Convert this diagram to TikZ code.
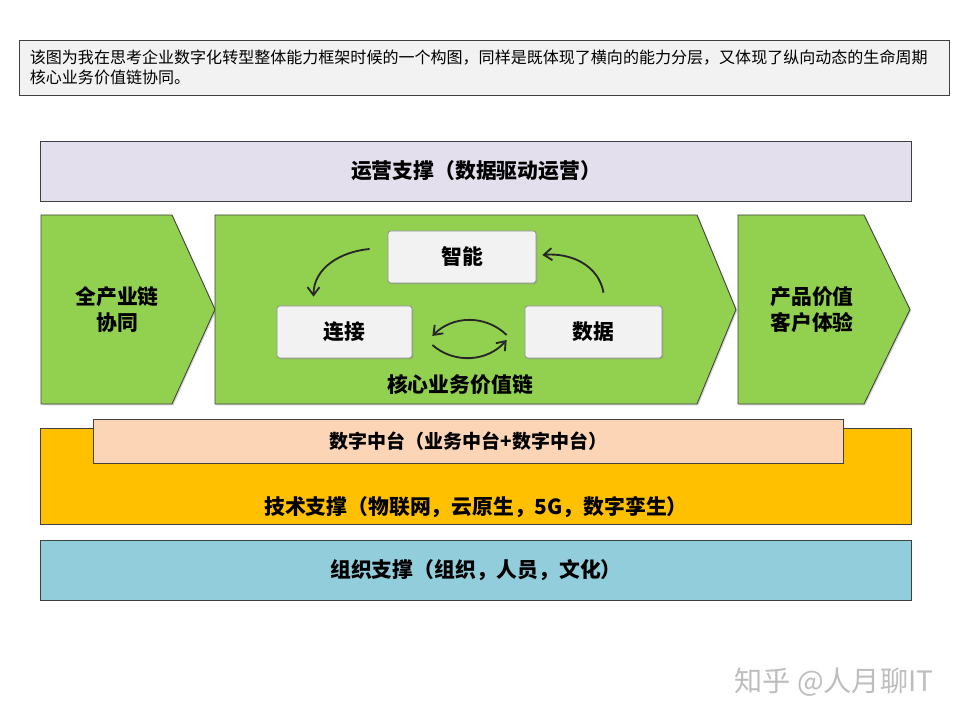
\documentclass[tikz,border=0pt]{standalone}
\usepackage{fontspec}
\setmainfont{Noto Sans CJK SC}
\usepackage{tikz}
\usetikzlibrary{arrows.meta,positioning,calc,shadows}
\definecolor{cadre}{HTML}{404040}
\definecolor{gris}{HTML}{F2F2F2}
\definecolor{lavande}{HTML}{E4DFEC}
\definecolor{vert}{HTML}{92D050}
\definecolor{jaune}{HTML}{FFC000}
\definecolor{peche}{HTML}{FBD5B5}
\definecolor{bleu}{HTML}{92CDDC}
\definecolor{filigrane}{HTML}{BDBDBD}
\tikzset{
  ombre/.style={drop shadow={shadow xshift=0.9pt, shadow yshift=-0.9pt, opacity=0.35}},
  couche/.style={rectangle, draw=cadre, line width=0.6pt, fill=#1, ombre,
                 font=\fontsize{14.8}{17}\selectfont\bfseries, align=center},
  carte/.style={rectangle, rounded corners=2pt, draw=black!45, line width=0.5pt, fill=gris, ombre,
                font=\fontsize{14.8}{17}\selectfont\bfseries, minimum height=1.3cm},
  fleche/.style={draw=black!85, -{Straight Barb[length=2mm,width=3mm]}, line width=1.3pt},
  lbl/.style={font=\fontsize{14.8}{18.5}\selectfont\bfseries, align=center},
}

\begin{document}
\begin{tikzpicture}[x=0.025cm, y=-0.025cm]
        \useasboundingbox (0,0) rectangle (960,720);
        % note en haut
        \node[rectangle, draw=cadre, line width=0.6pt, fill=gris, ombre, minimum height=1.375cm,
              text width=22.725cm, inner xsep=0.25cm, align=left,
              font=\fontsize{11.4}{14.2}\selectfont] (n) at (484.5,67.5)
          {该图为我在思考企业数字化转型整体能力框架时候的一个构图，同样是既体现了横向的能力分层，又体现了纵向动态的生命周期\\核心业务价值链协同。};
        \node[couche=lavande, minimum width=21.75cm, minimum height=1.5cm] (ops) at (476,171)
          {运营支撑（数据驱动运营）};
        % chevrons
        \filldraw[fill=vert, draw=cadre, line width=0.6pt, ombre]
          (41,215) -- (172,215) -- (215,309.5) -- (172,404) -- (41,404) -- cycle;
        \filldraw[fill=vert, draw=cadre, line width=0.6pt, ombre]
          (215,215) -- (697,215) -- (736,309.5) -- (697,404) -- (215,404) -- cycle;
        \filldraw[fill=vert, draw=cadre, line width=0.6pt, ombre]
          (738,215) -- (864,215) -- (910,309.5) -- (864,404) -- (738,404) -- cycle;
        \node[lbl] (amont) at (117,310) {全产业链\\协同};
        \node[lbl] (aval) at (812,310) {产品价值\\客户体验};
        \node[lbl] (coeur) at (460,385) {核心业务价值链};
        \node[carte, minimum width=3.7cm] (zn) at (462,257) {智能};
        \node[carte, minimum width=3.375cm] (lj) at (344.5,332) {连接};
        \node[carte, minimum width=3.425cm] (sj) at (593.5,332) {数据};
        \draw[fleche] ($(zn.west)+(-18,-8)$) to[out=185, in=90] ($(lj.north)+(-31,-9)$);
        \draw[fleche] ($(sj.north)+(10,-13)$) to[out=100, in=5] ($(zn.east)+(6,-2)$);
        \draw[fleche] ($(sj.west)+(-18,3)$) to[bend right=45] ($(lj.east)+(20,4)$);
        \draw[fleche] ($(lj.east)+(20,13)$) to[bend right=45] ($(sj.west)+(-18,8)$);
        % couches du bas
        \node[couche=jaune, minimum width=21.75cm, minimum height=2.4cm] (tb) at (476,476) {};
        \node[lbl] (tech) at (476,507) {技术支撑（物联网，云原生，5G，数字孪生）};
        \node[couche=peche, minimum width=18.725cm, minimum height=1.1cm,
              font=\fontsize{13.5}{15}\selectfont\bfseries] (mid) at (468.5,441)
          {数字中台（业务中台+数字中台）};
        \node[couche=bleu, minimum width=21.75cm, minimum height=1.5cm] (org) at (476,570)
          {组织支撑（组织，人员，文化）};
        \node[text=filigrane, font=\fontsize{20}{24}\selectfont] (wm) at (834,682) {知乎 @人月聊IT};
      \end{tikzpicture}
\end{document}
